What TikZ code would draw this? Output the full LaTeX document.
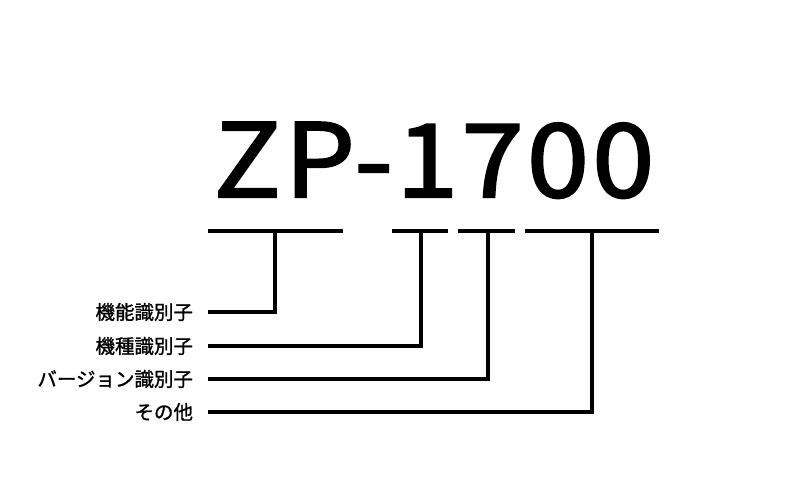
\documentclass[tikz,border=0pt]{standalone}
\usepackage{fontspec}
\setmainfont{Noto Sans CJK JP}[FakeBold=1.2]
\newfontfamily\titlefont{Noto Sans CJK JP}[FakeBold=2,FakeStretch=1.1,LetterSpace=3]

\begin{document}
\begin{tikzpicture}[x=1pt,y=-1pt]
\useasboundingbox (0,0) rectangle (800,500);
\node[anchor=base,inner sep=0] (T) at (434,197) {\fontsize{102}{102}\selectfont\titlefont ZP-1700};
\begin{scope}[line width=4pt,line join=miter]
% underlines
\draw (208,231) -- (343,231);
\draw (392,231) -- (448,231);
\draw (458,231) -- (515,231);
\draw (525,231) -- (659,231);
\coordinate (U1) at (275,231);
\coordinate (U2) at (421,231);
\coordinate (U3) at (488,231);
\coordinate (U4) at (592,231);
% labels
\node[anchor=east,inner xsep=13pt,inner ysep=0,font=\fontsize{19.5}{19.5}\selectfont] (L1) at (208,312) {機能識別子};
\node[anchor=east,inner xsep=13pt,inner ysep=0,font=\fontsize{19.5}{19.5}\selectfont] (L2) at (208,346) {機種識別子};
\node[anchor=east,inner xsep=13pt,inner ysep=0,font=\fontsize{19.5}{19.5}\selectfont] (L3) at (208,379) {バージョン識別子};
\node[anchor=east,inner xsep=13pt,inner ysep=0,font=\fontsize{19.5}{19.5}\selectfont] (L4) at (208,412) {その他};
\draw (L1.east) -| (U1);
\draw (L2.east) -| (U2);
\draw (L3.east) -| (U3);
\draw (L4.east) -| (U4);
\end{scope}
\end{tikzpicture}
\end{document}
